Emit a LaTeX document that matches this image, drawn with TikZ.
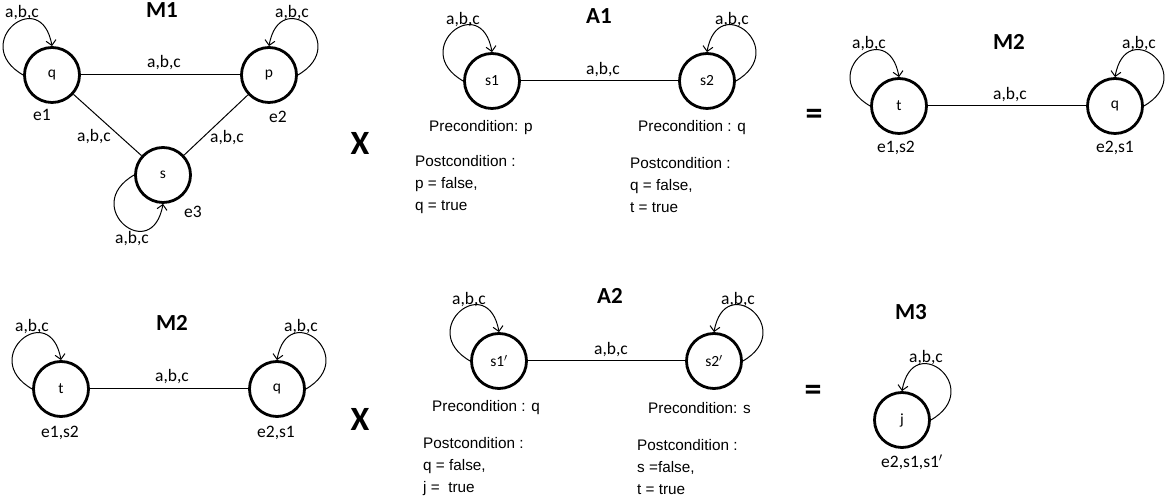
\documentclass[tikz,border=0pt]{standalone}
\usepackage{fontspec}
\setmainfont{Carlito}
\newfontfamily\arialf{Liberation Sans}
\usetikzlibrary{arrows.meta}
\begin{document}
\begin{tikzpicture}[x=1pt,y=1pt,
  state/.style={circle, draw, line width=2.8pt, minimum size=55pt, inner sep=0pt, font=\fontsize{15.5}{15.5}\selectfont},
  lbl/.style={font=\fontsize{17.5}{17.5}\selectfont, inner sep=0pt},
  ttl/.style={font=\bfseries\fontsize{23}{23}\selectfont, inner sep=0pt},
  op/.style={font=\bfseries\fontsize{34}{34}\selectfont, inner sep=0pt},
  cond/.style={font=\arialf\fontsize{15.3}{22}\selectfont, anchor=west, inner sep=0pt, align=left},
  tr/.style={line width=1pt},
  lp/.style={line width=1pt, -{Straight Barb[length=5pt,width=10pt]}, distance=63pt},
]
\useasboundingbox (0,0) rectangle (1169,497);

% ---------- M1 ----------
\node[ttl] (m1t) at (162,487) {M1};
\node[state] (m1q) at (52,422) {q};
\node[state] (m1p) at (269,422) {p};
\node[state] (m1s) at (163,322) {s};
\node[lbl] (m1e1) at (42,382) {e1};
\node[lbl] (m1e2) at (278,380) {e2};
\node[lbl] (m1e3) at (193,285) {e3};
\draw[tr] (m1q) -- (m1p);
\draw[tr] (m1q) -- (m1s);
\draw[tr] (m1p) -- (m1s);
\node[lbl] (m1lqp) at (164,434) {a,b,c};
\node[lbl] (m1lqs) at (94,360) {a,b,c};
\node[lbl] (m1lps) at (227,359) {a,b,c};
\draw[lp] (m1q.west) to[out=150,in=100] (m1q.north);
\draw[lp] (m1p.east) to[out=30,in=80] (m1p.north);
\draw[lp] (m1s.west) to[out=210,in=260] (m1s.south);
\node[lbl] (m1lq) at (22,484) {a,b,c};
\node[lbl] (m1lp) at (292,484) {a,b,c};
\node[lbl] (m1ls) at (132,258) {a,b,c};
\node[op] (x1) at (360,354) {X};

% ---------- A1 ----------
\node[ttl] (a1t) at (599,481) {A1};
\node[state] (a1s1) at (492,416) {s1};
\node[state] (a1s2) at (707,416) {s2};
\draw[tr] (a1s1) -- (a1s2);
\node[lbl] (a1l) at (603,427) {a,b,c};
\draw[lp] (a1s1.west) to[out=150,in=100] (a1s1.north);
\draw[lp] (a1s2.east) to[out=30,in=80] (a1s2.north);
\node[lbl] (a1l1) at (463,477) {a,b,c};
\node[lbl] (a1l2) at (732,477) {a,b,c};
\node[cond] (a1pre1) at (429,369) {Precondition: p};
\node[cond] (a1pre2) at (638,369) {Precondition : q};
\node[cond] (a1post1) at (415,312) {Postcondition :\\p = false,\\q = true};
\node[cond] (a1post2) at (630,312) {Postcondition :\\q = false,\\t = true};

% ---------- M2 (top) ----------
\node[op] (eq1) at (814,380) {=};
\node[ttl] (m2t) at (1009,455) {M2};
\node[state] (m2t1) at (899,391) {t};
\node[state] (m2q1) at (1115,391) {q};
\draw[tr] (m2t1) -- (m2q1);
\node[lbl] (m2l) at (1010,402) {a,b,c};
\draw[lp] (m2t1.west) to[out=150,in=100] (m2t1.north);
\draw[lp] (m2q1.east) to[out=30,in=80] (m2q1.north);
\node[lbl] (m2l1) at (869,453) {a,b,c};
\node[lbl] (m2l2) at (1139,453) {a,b,c};
\node[lbl] (m2e1) at (896,349) {e1,s2};
\node[lbl] (m2e2) at (1115,349) {e2,s1};

% ---------- M2 (bottom) ----------
\node[ttl] (n2t) at (172,174) {M2};
\node[state] (n2t1) at (61,108) {t};
\node[state] (n2q1) at (277,108) {q};
\draw[tr] (n2t1) -- (n2q1);
\node[lbl] (n2l) at (172,120) {a,b,c};
\draw[lp] (n2t1.west) to[out=150,in=100] (n2t1.north);
\draw[lp] (n2q1.east) to[out=30,in=80] (n2q1.north);
\node[lbl] (n2l1) at (32,170) {a,b,c};
\node[lbl] (n2l2) at (301,170) {a,b,c};
\node[lbl] (n2e1) at (60,64) {e1,s2};
\node[lbl] (n2e2) at (276,64) {e2,s1};
\node[op] (x2) at (360,78) {X};

% ---------- A2 ----------
\node[ttl] (a2t) at (610,201) {A2};
\node[state] (a2s1) at (499,136) {s1$'$};
\node[state] (a2s2) at (714,136) {s2$'$};
\draw[tr] (a2s1) -- (a2s2);
\node[lbl] (a2l) at (611,147) {a,b,c};
\draw[lp] (a2s1.west) to[out=150,in=100] (a2s1.north);
\draw[lp] (a2s2.east) to[out=30,in=80] (a2s2.north);
\node[lbl] (a2l1) at (469,197) {a,b,c};
\node[lbl] (a2l2) at (738,197) {a,b,c};
\node[cond] (a2pre1) at (432,89) {Precondition : q};
\node[cond] (a2pre2) at (648,89) {Precondition: s};
\node[cond] (a2post1) at (423,30) {Postcondition :\\q = false,\\j = \ true};
\node[cond] (a2post2) at (637,30) {Postcondition :\\s =false,\\t = true};

% ---------- M3 ----------
\node[op] (eq2) at (813,104) {=};
\node[ttl] (m3t) at (911,185) {M3};
\node[state] (m3j) at (902,77) {j};
\draw[lp] (m3j.east) to[out=30,in=80] (m3j.north);
\node[lbl] (m3l) at (926,139) {a,b,c};
\node[lbl] (m3e) at (912,35) {e2,s1,s1$'$};
\end{tikzpicture}
\end{document}
